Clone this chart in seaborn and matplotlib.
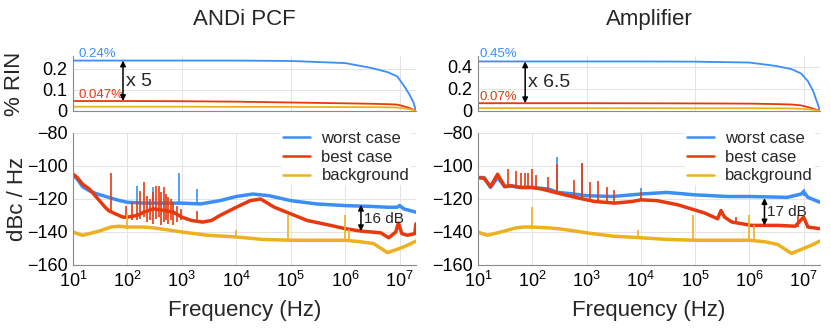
"""Integrated RIN and RIN spectra: ANDi PCF vs amplifier."""

import matplotlib
matplotlib.use("Agg")
import matplotlib.pyplot as plt
import seaborn as sns

# ---- colours (MATLAB-like) ----
BLUE = "#3A8EF6"
RED = "#E6390E"
YELLOW = "#EDB120"

# ---- integrated RIN (top panels) ----
rin_f = [10, 100, 1e3, 1e4, 1e5, 1e6, 3e6, 6e6, 9e6, 1.2e7, 1.5e7, 1.8e7, 2e7]
pcf_rin_worst = [0.24, 0.24, 0.24, 0.24, 0.238, 0.228, 0.205, 0.185, 0.165, 0.12, 0.08, 0.04, 0.0]
pcf_rin_best = [0.047, 0.047, 0.046, 0.044, 0.040, 0.036, 0.034, 0.032, 0.030, 0.022, 0.014, 0.006, 0.0]
pcf_rin_bg = [0.02, 0.02, 0.02, 0.019, 0.019, 0.018, 0.018, 0.017, 0.016, 0.012, 0.008, 0.004, 0.0]
amp_rin_worst = [0.45, 0.45, 0.45, 0.45, 0.448, 0.44, 0.41, 0.38, 0.34, 0.27, 0.18, 0.07, 0.0]
amp_rin_best = [0.07, 0.07, 0.07, 0.069, 0.068, 0.066, 0.062, 0.058, 0.05, 0.035, 0.02, 0.008, 0.0]
amp_rin_bg = [0.025, 0.025, 0.025, 0.025, 0.024, 0.024, 0.023, 0.022, 0.02, 0.015, 0.01, 0.004, 0.0]

# ---- RIN spectra (bottom panels), smooth trend ----
pcf_worst_f = [10, 12, 15, 20, 28, 36, 50, 73, 100, 200, 500, 1000, 2200, 5000, 1e4,
               2e4, 4e4, 1e5, 3e5, 1e6, 3e6, 6e6, 9e6, 1e7, 1.2e7, 2e7]
pcf_worst = [-105, -108, -112.5, -115, -117, -118, -119.5, -121, -122, -122.5, -122.5, -122.5,
             -123, -121, -118.5, -117, -118, -121, -123, -124, -124.5, -125, -125, -124, -126, -128]
pcf_best_f = [10, 12, 15, 20, 28, 39, 45, 60, 83, 100, 150, 200, 300, 500, 700, 1000, 1500,
              2400, 3500, 5000, 1e4, 1.8e4, 2.8e4, 5e4, 1e5, 2e5, 5.4e5, 1e6, 2e6, 4.5e6,
              6.3e6, 8.5e6, 9.5e6, 1.1e7, 1.4e7, 1.9e7, 2e7]
pcf_best = [-105, -107, -111, -114, -119.5, -125, -127, -129, -131, -131, -130, -128, -126,
            -127, -128, -131, -133, -134, -133, -130, -125, -121, -120, -125, -129, -133,
            -136, -138, -139.5, -140.5, -143.5, -140, -134.5, -141, -142, -141, -135]
pcf_bg_f = [10, 12, 15, 20, 30, 50, 70, 100, 200, 300, 500, 1000, 3000, 1e4, 3e4, 1e5,
            3e5, 1e6, 2e6, 3.3e6, 6e6, 1e7, 1.4e7, 2e7]
pcf_bg = [-140, -141, -142, -141, -139.5, -137, -136.5, -137, -137, -137.5, -138.5, -140,
          -142, -143, -144.5, -145, -145, -145, -146, -147, -152.5, -150, -148, -145.5]

amp_worst_f = [10, 13, 17, 23, 31, 40, 60, 100, 200, 300, 600, 1000, 3000, 1e4, 3e4, 1e5,
               4e5, 1e6, 5e6, 9e6, 1e7, 1.2e7, 2e7]
amp_worst = [-107, -107, -113, -107, -112.5, -112, -113, -113, -114, -116, -117, -118,
             -118.5, -117, -116, -117.5, -118.5, -118.5, -119, -117, -115.5, -119, -122]
amp_best_f = [10, 13, 17, 23, 31, 40, 60, 100, 150, 300, 620, 1400, 3300, 7000, 1e4, 2e4,
              4.8e4, 1.5e5, 2.6e5, 3e5, 3.5e5, 4.8e5, 1.1e6, 3.4e6, 7e6, 1e7, 1.2e7, 2e7]
amp_best = [-107, -107.5, -112.5, -105, -112.5, -112, -113, -113, -114, -116.5, -119, -121.5,
            -122.5, -121.5, -120.5, -121, -123.5, -128.5, -132, -127, -131, -134, -136,
            -136, -136.5, -131, -137, -138]
amp_bg_f = pcf_bg_f
amp_bg = [-140, -141, -142, -141, -139.5, -137.5, -137, -137, -137.5, -138, -139, -140.5,
          -142.5, -143.5, -144.5, -145, -145, -145, -146, -147.5, -153, -150, -148, -145.5]

# ---- narrow spurs: (frequency, lower dB, upper dB) ----
pcf_worst_spurs = [(150, -123, -112), (300, -123, -113), (900, -123, -104), (1870, -123, -114)]
pcf_best_spurs = [(50, -128, -104), (95, -131, -124), (120, -133, -122), (150, -133, -121),
                  (170, -132, -115), (205, -131, -110), (230, -134, -118), (260, -133, -120),
                  (300, -135, -116), (330, -132, -112), (380, -131, -112), (420, -136, -116),
                  (470, -134, -113), (520, -133, -117), (560, -135, -119), (620, -133, -120),
                  (700, -136, -122), (800, -134, -124), (950, -133, -126), (1900, -134, -127)]
pcf_bg_spurs = [(100, -138, -129), (1e4, -143, -139), (9e4, -145, -130), (1e6, -145, -130),
                (1.2e6, -145, -138)]
amp_worst_spurs = [(290, -117, -94.5), (830, -119, -98.5), (1e4, -117, -113.5), (1e7, -118, -114)]
amp_best_spurs = [(36, -112, -102), (50, -113, -103), (62, -113, -104), (74, -113, -104),
                  (84, -113, -104.5), (98, -113, -102), (117, -113, -105.5), (195, -115, -106.7),
                  (290, -117, -99), (590, -119, -108.5), (830, -120, -98), (1150, -121, -110),
                  (1620, -121.5, -109), (2400, -122, -113), (3160, -122.5, -114.5),
                  (1e4, -121, -116), (5.7e5, -135, -131), (8e6, -137, -130)]
amp_bg_spurs = [(100, -138, -125), (9e3, -143, -139), (9e4, -145, -130), (1e6, -145, -130),
                (1.2e6, -145, -136)]

sns.set_style("whitegrid")
plt.rcParams["font.family"] = ["Liberation Sans", "DejaVu Sans"]
plt.rcParams["mathtext.default"] = "regular"

fig = plt.figure(figsize=(8.31, 3.35), dpi=100)
ax_tl = fig.add_axes([0.0878, 0.669, 0.4128, 0.164])
ax_tr = fig.add_axes([0.5752, 0.669, 0.4115, 0.164])
ax_bl = fig.add_axes([0.0878, 0.209, 0.4128, 0.394])
ax_br = fig.add_axes([0.5752, 0.209, 0.4115, 0.394])


def style(ax):
    ax.set_xscale("log")
    ax.set_xlim(10, 2e7)
    ax.grid(True, which="major", color="#e3e3e3", lw=0.7)
    ax.grid(True, which="minor", axis="x", color="#eeeeee", lw=0.6)
    ax.tick_params(which="both", direction="in", colors="#777777", labelcolor="black",
                   labelsize=13, length=3, width=0.6, pad=4)
    ax.tick_params(which="minor", length=2)
    for side in ["top", "right"]:
        ax.spines[side].set_visible(False)
    for side in ["left", "bottom"]:
        ax.spines[side].set_color("#8a8a8a")
        ax.spines[side].set_linewidth(0.8)
    ax.set_xlabel("")
    ax.set_ylabel("")


def draw_rin(ax, worst, best, bg):
    sns.lineplot(x=rin_f, y=worst, ax=ax, color=BLUE, lw=1.3, sort=False, estimator=None)
    sns.lineplot(x=rin_f, y=best, ax=ax, color=RED, lw=1.3, sort=False, estimator=None)
    sns.lineplot(x=rin_f, y=bg, ax=ax, color=YELLOW, lw=1.3, sort=False, estimator=None)
    style(ax)
    ax.set_xticklabels([])


def draw_spec(ax, traces):
    for (f, y, spurs, color, label) in traces:
        sns.lineplot(x=f, y=y, ax=ax, color=color, lw=2.5, sort=False, estimator=None,
                     label=label)
        ax.vlines([s[0] for s in spurs], [s[1] for s in spurs], [s[2] for s in spurs],
                  color=color, lw=1.2)
    style(ax)
    ax.set_ylim(-160, -80)
    ax.set_yticks([-160, -140, -120, -100, -80])
    ax.set_xticks([1e1, 1e2, 1e3, 1e4, 1e5, 1e6, 1e7])
    ax.set_xlabel("Frequency (Hz)", fontsize=16, labelpad=7)
    leg = ax.legend(loc="upper right", bbox_to_anchor=(0.985, 1.027), fontsize=12,
                    frameon=True, facecolor="white", edgecolor="none", framealpha=1,
                    handlelength=1.6, borderpad=0.1, borderaxespad=0, labelspacing=0.22,
                    handletextpad=0.7)
    for line in leg.get_lines():
        line.set_linewidth(1.8)


arrow = dict(arrowstyle="<|-|>", color="black", lw=1.1, shrinkA=0, shrinkB=0,
             mutation_scale=8)

# top left
draw_rin(ax_tl, pcf_rin_worst, pcf_rin_best, pcf_rin_bg)
ax_tl.set_ylim(0, 0.262)
ax_tl.set_yticks([0, 0.1, 0.2])
ax_tl.set_yticklabels(["0", "0.1", "0.2"])
ax_tl.set_title("ANDi PCF", fontsize=16, pad=22)
ax_tl.text(12.5, 0.243, "0.24%", color=BLUE, fontsize=9.5, va="bottom")
ax_tl.text(12.5, 0.047, "0.047%", color=RED, fontsize=9.5, va="bottom")
ax_tl.annotate("", xy=(83, 0.047), xytext=(83, 0.24), arrowprops=arrow)
ax_tl.text(95, 0.14, "x 5", fontsize=14, va="center")
ax_tl.set_ylabel("% RIN", fontsize=16)
ax_tl.yaxis.set_label_coords(-0.14, 0.5)

# top right
draw_rin(ax_tr, amp_rin_worst, amp_rin_best, amp_rin_bg)
ax_tr.set_ylim(0, 0.5)
ax_tr.set_yticks([0, 0.2, 0.4])
ax_tr.set_yticklabels(["0", "0.2", "0.4"])
ax_tr.set_title("Amplifier", fontsize=16, pad=22)
ax_tr.text(10.5, 0.46, "0.45%", color=BLUE, fontsize=9.5, va="bottom")
ax_tr.text(10.5, 0.075, "0.07%", color=RED, fontsize=9.5, va="bottom")
ax_tr.annotate("", xy=(74, 0.07), xytext=(74, 0.45), arrowprops=arrow)
ax_tr.text(85, 0.26, "x 6.5", fontsize=14, va="center")

# bottom left
draw_spec(ax_bl, [(pcf_worst_f, pcf_worst, pcf_worst_spurs, BLUE, "worst case"),
                  (pcf_best_f, pcf_best, pcf_best_spurs, RED, "best case"),
                  (pcf_bg_f, pcf_bg, pcf_bg_spurs, YELLOW, "background")])
ax_bl.annotate("", xy=(1.95e6, -139.5), xytext=(1.95e6, -123.5), arrowprops=arrow)
ax_bl.text(2.2e6, -132, "16 dB", fontsize=11, va="center")
ax_bl.set_ylabel("dBc / Hz", fontsize=16)
ax_bl.yaxis.set_label_coords(-0.13, 0.5)

# bottom right
draw_spec(ax_br, [(amp_worst_f, amp_worst, amp_worst_spurs, BLUE, "worst case"),
                  (amp_best_f, amp_best, amp_best_spurs, RED, "best case"),
                  (amp_bg_f, amp_bg, amp_bg_spurs, YELLOW, "background")])
ax_br.annotate("", xy=(1.9e6, -136), xytext=(1.9e6, -119.5), arrowprops=arrow)
ax_br.text(2.15e6, -128, "17 dB", fontsize=11, va="center")

fig.savefig("out.png", dpi=100)
